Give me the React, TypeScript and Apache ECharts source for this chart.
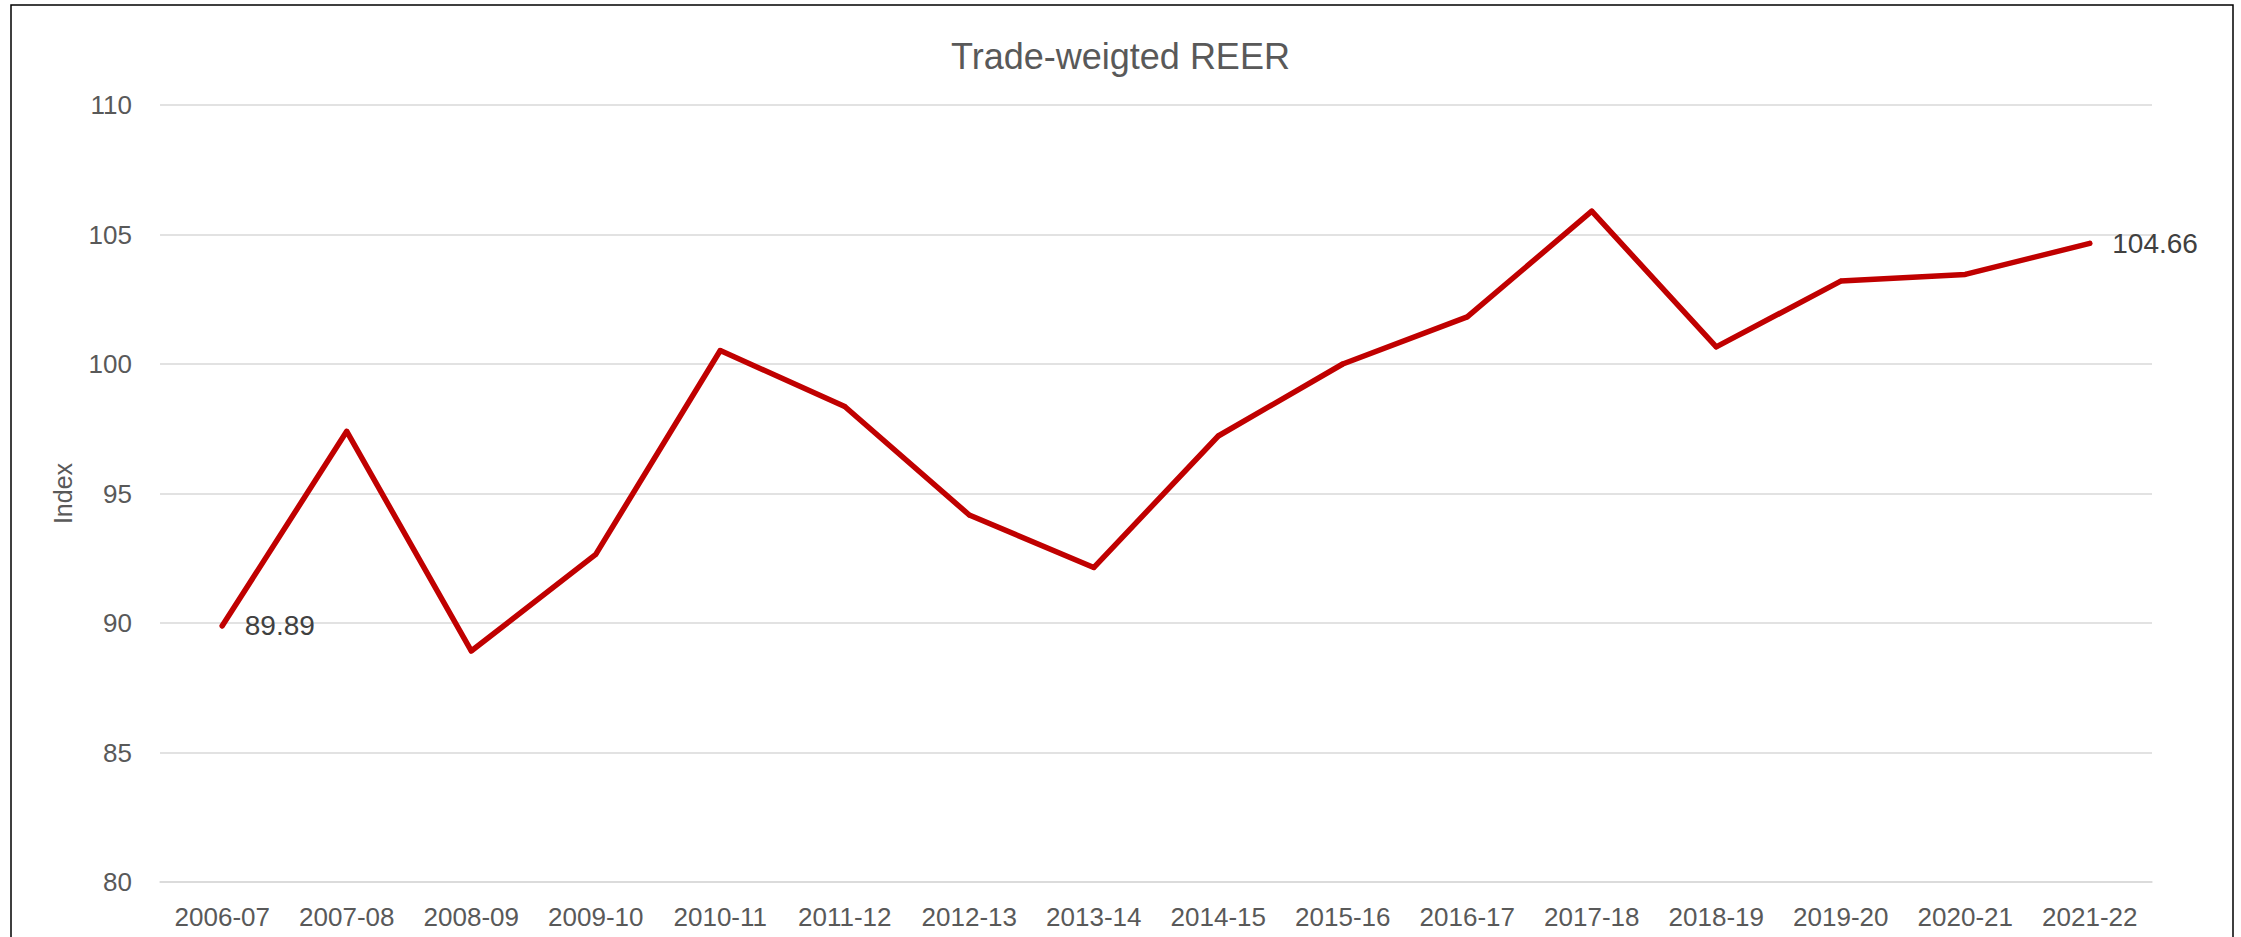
import React, { useEffect, useRef } from "react";
import * as echarts from "echarts";

const chartTitle = "Trade-weigted REER";
const yAxisTitle = "Index";
const categories = [
  "2006-07", "2007-08", "2008-09", "2009-10", "2010-11", "2011-12", "2012-13", "2013-14",
  "2014-15", "2015-16", "2016-17", "2017-18", "2018-19", "2019-20", "2020-21", "2021-22",
];
const reerValues = [
  89.89, 97.4, 88.92, 92.65, 100.52, 98.36, 94.17, 92.14,
  97.22, 100.0, 101.82, 105.9, 100.66, 103.2, 103.46, 104.66,
];
const labelledIndices = [0, 15];
const yMin = 80;
const yMax = 110;
const yInterval = 5;

const FONT = "Liberation Sans";

export default function App() {
  const ref = useRef<HTMLDivElement>(null);
  useEffect(() => {
    const chart = echarts.init(ref.current!, null, { renderer: "svg" });
    const data = reerValues.map((v, i) => ({
      value: v,
      label: { show: labelledIndices.includes(i) },
    }));
    chart.setOption({
      animation: false,
      backgroundColor: "#ffffff",
      title: {
        text: chartTitle,
        left: "center",
        top: 33,
        textStyle: { fontFamily: FONT, fontSize: 36, fontWeight: "normal", color: "#595959" },
      },
      grid: { left: 160, right: 89, top: 105, bottom: 55, containLabel: false },
      xAxis: {
        type: "category",
        data: categories,
        boundaryGap: true,
        axisLine: { show: true, lineStyle: { color: "#d9d9d9", width: 1.5 } },
        axisTick: { show: false },
        axisLabel: { fontFamily: FONT, fontSize: 26, color: "#595959", margin: 22, interval: 0 },
        splitLine: { show: false },
      },
      yAxis: {
        type: "value",
        min: yMin,
        max: yMax,
        interval: yInterval,
        name: yAxisTitle,
        nameLocation: "middle",
        nameGap: 85,
        nameRotate: 90,
        nameTextStyle: { fontFamily: FONT, fontSize: 25, color: "#595959" },
        axisLine: { show: false },
        axisTick: { show: false },
        axisLabel: { fontFamily: FONT, fontSize: 26, color: "#595959", margin: 28 },
        splitLine: { show: true, lineStyle: { color: "#d9d9d9", width: 1.5 } },
      },
      series: [
        {
          type: "line",
          data,
          symbol: "circle",
          symbolSize: 5,
          showAllSymbol: true,
          itemStyle: { color: "#C00000" },
          lineStyle: { color: "#C00000", width: 5.5, cap: "round", join: "round" },
          label: {
            position: "right",
            distance: 20,
            fontFamily: FONT,
            fontSize: 28,
            color: "#404040",
          },
        },
      ],
      graphic: [
        {
          type: "rect",
          silent: true,
          shape: { x: 11, y: 5, width: 2222, height: 1100 },
          style: { fill: "none", stroke: "#000000", lineWidth: 1.5 },
        },
      ],
    });
    return () => chart.dispose();
  }, []);
  return (
    <div
      ref={ref}
      style={{ position: "fixed", left: 0, top: 0, width: 2241, height: 937, background: "#fff" }}
    />
  );
}
